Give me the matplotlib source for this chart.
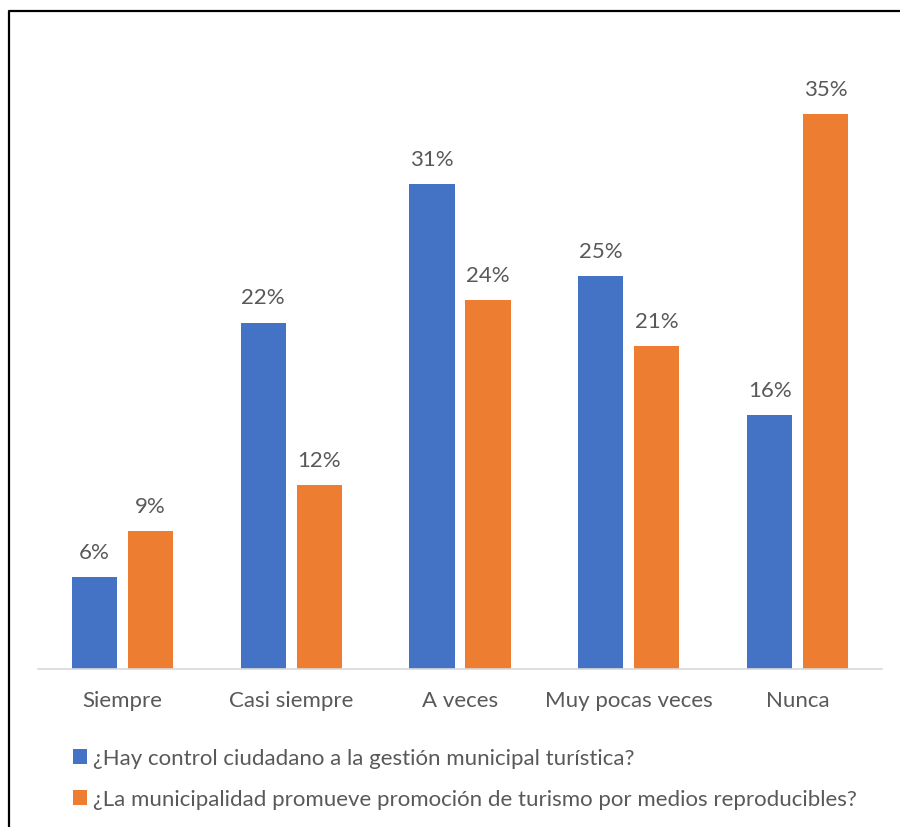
import matplotlib.pyplot as plt
import numpy as np
from matplotlib.lines import Line2D

# values (percent)
categorias = ['Siempre', 'Casi siempre', 'A veces', 'Muy pocas veces', 'Nunca']
control = [5.87, 22.14, 30.99, 25.08, 16.22]
promocion = [8.83, 11.77, 23.58, 20.61, 35.44]
serie1 = '¿Hay control ciudadano a la gestión municipal turística?'
serie2 = '¿La municipalidad promueve promoción de turismo por medios reproducibles?'

azul = '#4472C4'
naranja = '#ED7D31'
gris = '#595959'

plt.rcParams['font.family'] = ['Lato', 'DejaVu Sans']

fig = plt.figure(figsize=(9, 8.28), dpi=100)
ax = fig.add_axes([38/900, 158/828, 844/900, 626/828])

x = np.arange(len(categorias))
w = 0.267
off = 0.166
b1 = ax.bar(x - off, control, w, color=azul, label=serie1)
b2 = ax.bar(x + off, promocion, w, color=naranja, label=serie2)

for bars, vals in ((b1, control), (b2, promocion)):
    for r, v in zip(bars, vals):
        ax.annotate(f'{v:.0f}%', (r.get_x() + r.get_width()/2, v),
                    xytext=(0, 11), textcoords='offset points',
                    ha='center', va='bottom', fontsize=16, color=gris)

ax.set_xlim(-0.5, 4.5)
ax.set_ylim(0, 40)
ax.set_xticks(x)
ax.set_xticklabels(categorias, fontsize=16, color=gris)
ax.tick_params(axis='x', length=0, pad=15)
ax.set_yticks([])
for s in ['top', 'right', 'left']:
    ax.spines[s].set_visible(False)
ax.spines['bottom'].set_color('#D9D9D9')
ax.spines['bottom'].set_linewidth(1.2)

leg = fig.legend(handles=[b1, b2], loc='upper left',
                 bbox_to_anchor=(64/900, 1 - 740/828), frameon=False,
                 fontsize=16, handlelength=0.65, handleheight=0.65,
                 handletextpad=0.25, labelspacing=0.95, borderaxespad=0)
for t in leg.get_texts():
    t.set_color(gris)

# marco del grafico (solo se ven borde izquierdo y superior)
fig.add_artist(Line2D([8.5/900, 8.5/900, 1.01], [-0.01, 1 - 11.5/828, 1 - 11.5/828],
                      transform=fig.transFigure, color='black', lw=1.6))

fig.savefig('out.png', dpi=100)
